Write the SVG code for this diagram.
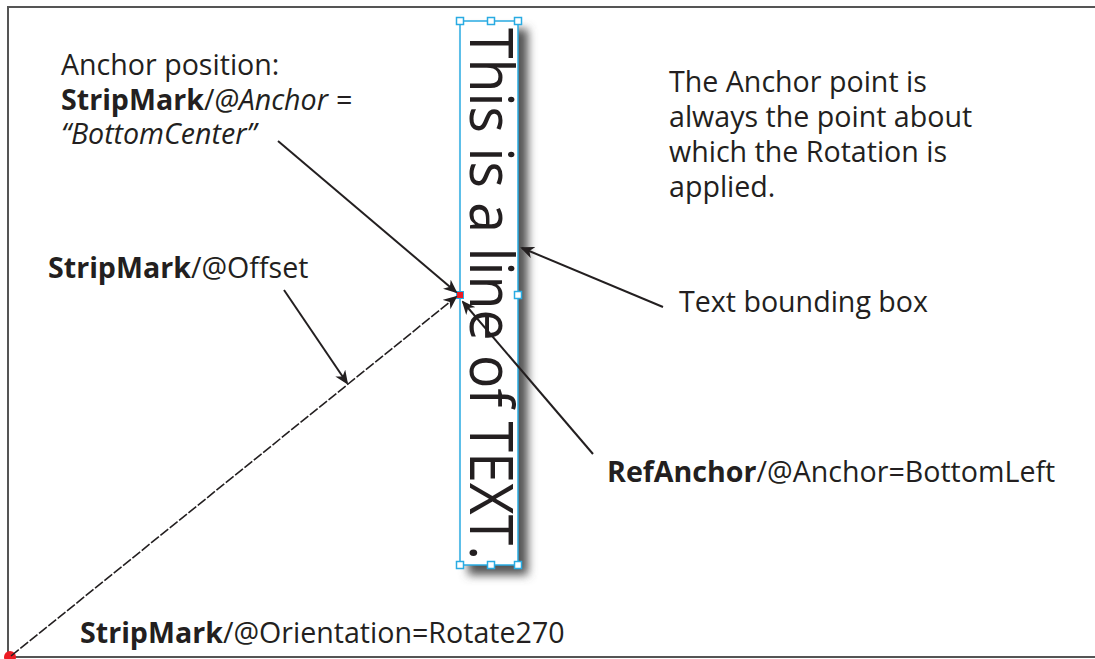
<svg xmlns="http://www.w3.org/2000/svg" width="1095" height="659" viewBox="0 0 1095 659">
<style>
.t{font-family:"Open Sans","Noto Sans",sans-serif;font-size:28.6px;fill:#231f20}
.b{font-weight:bold}
.i{font-style:italic}
.ln{stroke:#231f20;stroke-width:2;fill:none}
.h{fill:#fff;stroke:#29abe2;stroke-width:1.5}
</style>
<defs>
<marker id="ah" markerWidth="14" markerHeight="12" refX="12" refY="6" orient="auto" markerUnits="userSpaceOnUse">
<path d="M0,0 L14,6 L0,12 L4,6 z" fill="#231f20"/>
</marker>
<filter id="sh" x="-50%" y="-10%" width="200%" height="120%">
<feGaussianBlur stdDeviation="5"/>
</filter>
</defs>
<rect width="1095" height="659" fill="#fff"/>
<g id="frame">
<path d="M8,658 L8,7 L1095,7" fill="none" stroke="#555" stroke-width="2"/>
<path d="M8,657 L1095,657" fill="none" stroke="#555" stroke-width="2"/>
</g>
<g id="textbox">
<rect x="468" y="29" width="60" height="546" fill="#555" filter="url(#sh)"/>
<rect x="460" y="21" width="58" height="544" fill="#fff" stroke="#29abe2" stroke-width="1.5"/>
<text class="t" transform="translate(470,28) rotate(90)" style="font-size:61px" textLength="532" lengthAdjust="spacingAndGlyphs">This is a line of TEXT.</text>
<rect class="h" x="456.5" y="17.5" width="7" height="7"/>
<rect class="h" x="487.5" y="17.5" width="7" height="7"/>
<rect class="h" x="514.5" y="17.5" width="7" height="7"/>
<rect class="h" x="456.5" y="561.5" width="7" height="7"/>
<rect class="h" x="487.5" y="561.5" width="7" height="7"/>
<rect class="h" x="514.5" y="561.5" width="7" height="7"/>
<rect class="h" x="514.5" y="291.5" width="7" height="7"/>
<rect x="456.5" y="291.5" width="7" height="7" fill="#ed1c24" stroke="#29abe2" stroke-width="1"/>
</g>
<g id="origin">
<circle cx="10" cy="657" r="6" fill="#ed1c24"/>
</g>
<g id="connectors">
<line class="ln" x1="278" y1="141" x2="456" y2="292" marker-end="url(#ah)"/>
<line class="ln" x1="284" y1="290" x2="347" y2="383" marker-end="url(#ah)"/>
<line x1="11" y1="656" x2="456" y2="297" stroke="#231f20" stroke-width="1.6" stroke-dasharray="10,2" marker-end="url(#ah)"/>
<line class="ln" x1="663" y1="307" x2="522" y2="248" marker-end="url(#ah)"/>
<line class="ln" x1="593" y1="454" x2="463" y2="302" marker-end="url(#ah)"/>
</g>
<g id="label-anchor">
<text class="t" x="61" y="75">Anchor position:</text>
<text class="t" x="61" y="110"><tspan class="b">StripMark</tspan>/<tspan class="i">@Anchor =</tspan></text>
<text class="t i" x="61" y="144">“BottomCenter”</text>
</g>
<g id="label-note">
<text class="t" x="669" y="92">The Anchor point is</text>
<text class="t" x="669" y="127">always the point about</text>
<text class="t" x="669" y="162">which the Rotation is</text>
<text class="t" x="669" y="197">applied.</text>
</g>
<g id="label-offset">
<text class="t" x="48" y="278"><tspan class="b">StripMark</tspan>/@Offset</text>
</g>
<g id="label-bbox">
<text class="t" x="679" y="312">Text bounding box</text>
</g>
<g id="label-refanchor">
<text class="t" x="607" y="482"><tspan class="b">RefAnchor</tspan>/@Anchor=BottomLeft</text>
</g>
<g id="label-orientation">
<text class="t" x="80" y="643"><tspan class="b">StripMark</tspan>/@Orientation=Rotate270</text>
</g>
</svg>
